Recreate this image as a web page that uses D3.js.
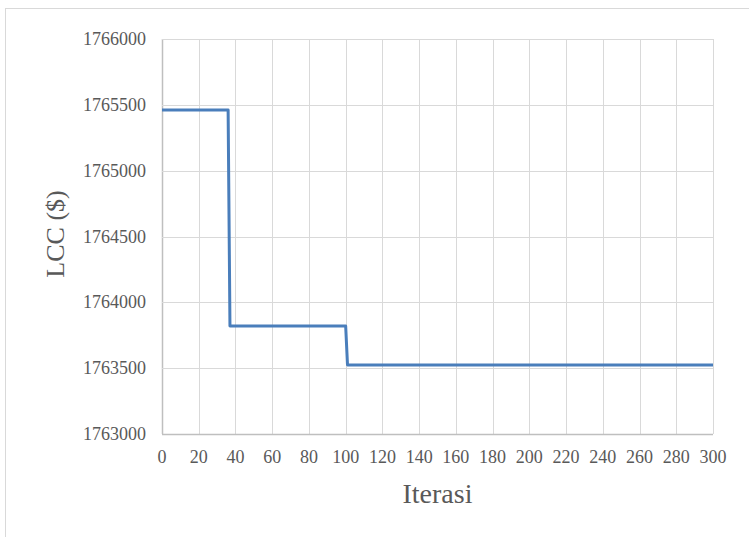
<!DOCTYPE html>
<html>
<head>
<meta charset="utf-8">
<script src="https://d3js.org/d3.v7.min.js"></script>
<style>
  body { margin: 0; background: #fff; }
  svg { display: block; font-family: "Liberation Serif", "Times New Roman", serif; }
</style>
</head>
<body>
<div id="chart"></div>
<script>
// data
const iterations = [0, 36, 37, 100, 101, 300];
const lccValues = [1765460, 1765460, 1763820, 1763820, 1763525, 1763525];
const xTicks = d3.range(0, 301, 20);
const yTicks = [1763000, 1763500, 1764000, 1764500, 1765000, 1765500, 1766000];

const width = 749;
const height = 537;
const margin = { top: 39, right: 36, bottom: 103, left: 162 };

const svg = d3.select('#chart')
    .append('svg')
    .attr('width', width)
    .attr('height', height);

// outer chart border
svg.append('rect')
    .attr('x', 5.5)
    .attr('y', 8.5)
    .attr('width', 800)
    .attr('height', 600)
    .attr('fill', 'none')
    .attr('stroke', '#d9d9d9');

const xScale = d3.scaleLinear()
    .domain([0, 300])
    .range([margin.left, width - margin.right]);

const yScale = d3.scaleLinear()
    .domain([1763000, 1766000])
    .range([height - margin.bottom, margin.top]);

// gridlines
svg.append('g')
    .selectAll('line')
    .data(xTicks)
    .join('line')
    .attr('x1', d => Math.round(xScale(d)) + 0.5)
    .attr('x2', d => Math.round(xScale(d)) + 0.5)
    .attr('y1', yScale(1766000))
    .attr('y2', yScale(1763000))
    .attr('stroke', d => d === 0 ? '#bfbfbf' : '#d9d9d9')
    .attr('stroke-width', d => d === 0 ? 1.5 : 1);

svg.append('g')
    .selectAll('line')
    .data(yTicks)
    .join('line')
    .attr('x1', xScale(0))
    .attr('x2', xScale(300))
    .attr('y1', d => Math.round(yScale(d)) + 0.5)
    .attr('y2', d => Math.round(yScale(d)) + 0.5)
    .attr('stroke', d => d === 1763000 ? '#bfbfbf' : '#d9d9d9')
    .attr('stroke-width', d => d === 1763000 ? 1.5 : 1);

// tick labels
svg.append('g')
    .selectAll('text')
    .data(xTicks)
    .join('text')
    .attr('x', d => xScale(d))
    .attr('y', yScale(1763000) + 29)
    .attr('text-anchor', 'middle')
    .attr('font-size', 18)
    .attr('fill', '#595959')
    .text(d => d);

svg.append('g')
    .selectAll('text')
    .data(yTicks)
    .join('text')
    .attr('x', xScale(0) - 16)
    .attr('y', d => yScale(d) + 6)
    .attr('text-anchor', 'end')
    .attr('font-size', 18)
    .attr('fill', '#595959')
    .text(d => d);

// the line
const line = d3.line()
    .x((d, i) => xScale(iterations[i]))
    .y(d => yScale(d));

svg.append('path')
    .datum(lccValues)
    .attr('fill', 'none')
    .attr('stroke', '#4a7ebb')
    .attr('stroke-width', 3)
    .attr('stroke-linejoin', 'round')
    .attr('d', line);

// axis titles
svg.append('text')
    .attr('x', (xScale(0) + xScale(300)) / 2)
    .attr('y', 503)
    .attr('text-anchor', 'middle')
    .attr('font-size', 28)
    .attr('fill', '#595959')
    .text('Iterasi');

svg.append('text')
    .attr('transform', 'rotate(-90)')
    .attr('x', -234)
    .attr('y', 64)
    .attr('text-anchor', 'middle')
    .attr('font-size', 26)
    .attr('fill', '#595959')
    .text('LCC ($)');
</script>
</body>
</html>
